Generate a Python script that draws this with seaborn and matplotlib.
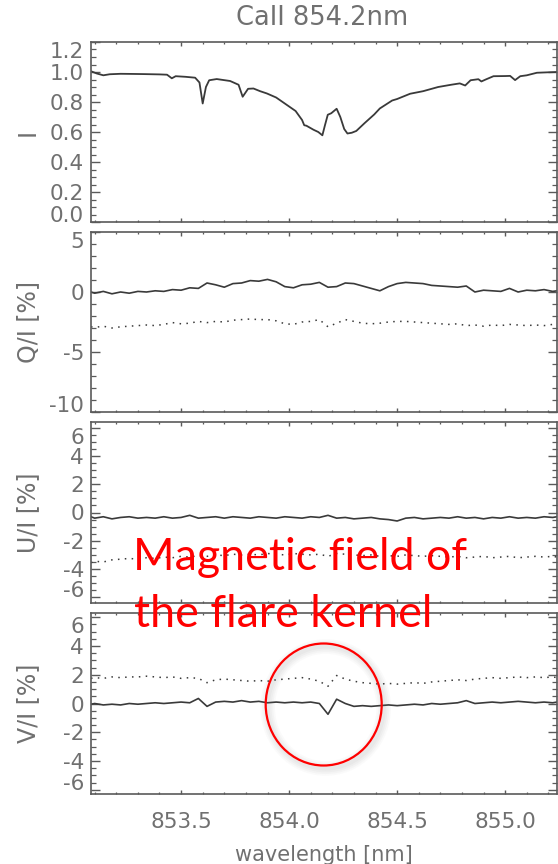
import numpy as np
import pandas as pd
import matplotlib
matplotlib.use("Agg")
import matplotlib.pyplot as plt
from matplotlib.ticker import MultipleLocator, FormatStrFormatter
from matplotlib.patches import Ellipse
import seaborn as sns

# Stokes I profile around Ca II 854.2 nm
wl_i = [853.083, 853.11, 853.14, 853.17, 853.22, 853.28, 853.33, 853.40, 853.435, 853.457,
        853.475, 853.52, 853.565, 853.585, 853.60, 853.615, 853.63, 853.665, 853.727, 853.766,
        853.785, 853.81, 853.835, 853.866, 853.897, 853.94, 853.98, 854.03, 854.06, 854.07,
        854.08, 854.113, 854.135, 854.154, 854.165, 854.179, 854.195, 854.22, 854.237, 854.255,
        854.27, 854.29, 854.311, 854.35, 854.394, 854.42, 854.477, 854.50, 854.56, 854.62,
        854.69, 854.75, 854.79, 854.815, 854.84, 854.876, 854.89, 854.91, 854.946, 855.0,
        855.023, 855.046, 855.07, 855.10, 855.147, 855.20, 855.24]
stokes_i = [1.005, 0.99, 0.978, 0.985, 0.988, 0.987, 0.986, 0.984, 0.982, 0.958,
            0.972, 0.968, 0.962, 0.93, 0.79, 0.90, 0.945, 0.953, 0.94, 0.915,
            0.835, 0.888, 0.89, 0.872, 0.857, 0.83, 0.79, 0.74, 0.68, 0.645,
            0.642, 0.615, 0.60, 0.578, 0.64, 0.715, 0.725, 0.755, 0.70, 0.62,
            0.59, 0.595, 0.607, 0.66, 0.717, 0.757, 0.81, 0.82, 0.855, 0.872,
            0.90, 0.915, 0.924, 0.91, 0.945, 0.952, 0.937, 0.95, 0.972, 0.973,
            0.974, 0.946, 0.972, 0.978, 0.995, 0.998, 1.0]

# polarisation profiles (percent), solid and dotted curves
wl_pol = [853.083, 853.10, 853.14, 853.18, 853.22, 853.26, 853.30, 853.34, 853.38, 853.42,
          853.46, 853.50, 853.54, 853.58, 853.62, 853.66, 853.70, 853.74, 853.78, 853.82,
          853.86, 853.90, 853.94, 853.98, 854.02, 854.06, 854.10, 854.14, 854.18, 854.22,
          854.26, 854.30, 854.34, 854.38, 854.42, 854.46, 854.50, 854.54, 854.58, 854.62,
          854.66, 854.70, 854.74, 854.78, 854.82, 854.86, 854.90, 854.94, 854.98, 855.02,
          855.06, 855.10, 855.14, 855.18, 855.22, 855.24]
q_solid = [0.0, -0.1, 0.05, -0.15, 0.0, -0.1, 0.05, 0.0, 0.1, 0.05,
           0.2, 0.15, 0.35, 0.3, 0.75, 0.6, 0.4, 0.7, 0.75, 0.95,
           0.9, 1.05, 0.85, 0.45, 0.35, 0.6, 0.65, 0.8, 0.4, 0.45,
           0.75, 0.7, 0.5, 0.3, 0.1, 0.45, 0.7, 0.8, 0.75, 0.7,
           0.55, 0.5, 0.45, 0.4, 0.5, 0.0, 0.15, 0.1, 0.05, 0.3,
           0.0, 0.15, 0.1, 0.2, 0.05, 0.1]
q_dot = [-2.9, -2.95, -2.85, -3.0, -2.9, -2.85, -2.8, -2.75, -2.8, -2.7,
         -2.55, -2.65, -2.6, -2.45, -2.55, -2.45, -2.5, -2.35, -2.3, -2.25,
         -2.3, -2.3, -2.4, -2.65, -2.7, -2.5, -2.45, -2.3, -2.9, -2.6,
         -2.3, -2.45, -2.6, -2.65, -2.6, -2.5, -2.45, -2.45, -2.5, -2.55,
         -2.6, -2.65, -2.7, -2.65, -2.8, -2.75, -2.85, -2.75, -2.8, -2.7,
         -2.75, -2.8, -2.75, -2.8, -2.7, -2.8]
u_solid = [-0.3, -0.4, -0.3, -0.45, -0.35, -0.3, -0.4, -0.35, -0.4, -0.3,
           -0.4, -0.35, -0.2, -0.4, -0.35, -0.3, -0.4, -0.3, -0.35, -0.4,
           -0.3, -0.35, -0.4, -0.3, -0.35, -0.4, -0.3, -0.35, -0.2, -0.4,
           -0.35, -0.45, -0.4, -0.35, -0.45, -0.5, -0.6, -0.4, -0.35, -0.45,
           -0.4, -0.35, -0.4, -0.3, -0.4, -0.35, -0.45, -0.35, -0.4, -0.3,
           -0.4, -0.35, -0.4, -0.3, -0.35, -0.3]
u_dot = [-3.55, -3.45, -3.5, -3.35, -3.3, -3.25, -3.3, -3.2, -3.25, -3.15,
         -3.2, -3.1, -3.15, -3.05, -3.1, -3.0, -3.05, -2.95, -3.0, -2.95,
         -3.0, -2.9, -2.95, -3.0, -2.9, -2.95, -3.0, -2.95, -3.1, -2.9,
         -2.95, -3.0, -3.05, -3.0, -3.1, -3.05, -3.1, -3.0, -3.05, -3.1,
         -3.05, -3.1, -3.15, -3.1, -3.2, -3.15, -3.1, -3.2, -3.15, -3.1,
         -3.2, -3.15, -3.1, -3.15, -3.1, -3.15]
v_solid = [-0.05, 0.0, -0.1, -0.05, -0.1, 0.0, -0.05, 0.0, 0.05, 0.0,
           0.05, 0.1, 0.05, 0.35, -0.2, 0.1, 0.15, 0.1, 0.2, 0.1,
           0.15, 0.05, 0.1, 0.05, 0.1, 0.05, 0.1, 0.0, -0.75, 0.3,
           0.0, -0.2, -0.15, -0.2, -0.15, -0.1, -0.15, -0.1, -0.05, -0.1,
           0.0, -0.05, 0.0, 0.05, 0.2, 0.0, 0.05, 0.1, 0.05, 0.1,
           0.15, 0.1, 0.05, 0.1, 0.05, 0.1]
v_dot = [1.75, 1.8, 1.75, 1.85, 1.8, 1.85, 1.85, 1.9, 1.85, 1.8,
         1.85, 1.75, 1.8, 1.75, 1.45, 1.65, 1.7, 1.65, 1.6, 1.55,
         1.6, 1.55, 1.65, 1.7, 1.75, 1.8, 1.7, 1.55, 1.2, 1.95,
         1.7, 1.55, 1.45, 1.4, 1.35, 1.4, 1.35, 1.4, 1.45, 1.4,
         1.5, 1.55, 1.6, 1.65, 1.6, 1.7, 1.75, 1.8, 1.75, 1.8,
         1.85, 1.8, 1.85, 1.8, 1.85, 1.8]

ylabels = ["I", "Q/I [%]", "U/I [%]", "V/I [%]"]
title = "CaII 854.2nm"
note = ["Magnetic field of", "the flare kernel"]

sns.set_style("white")
plt.rcParams["font.family"] = ["DejaVu Sans"]

line_c = "#3a3a3a"
axis_c = "#5a5a5a"
text_c = "#707070"

fig = plt.figure(figsize=(5.58, 8.64), dpi=100)
left, width = 91 / 558, 466 / 558
boxes = [(42, 222), (232, 412), (422, 603), (613, 794)]
axes = []
for top, bot in boxes:
    axes.append(fig.add_axes([left, 1 - bot / 864, width, (bot - top) / 864]))

pol = pd.DataFrame({"wl": wl_pol, "q": q_solid, "q2": q_dot, "u": u_solid,
                    "u2": u_dot, "v": v_solid, "v2": v_dot})
dot = (0, (1, 3.5))

sns.lineplot(x=wl_i, y=stokes_i, ax=axes[0], color=line_c, lw=1.3, errorbar=None)
for ax, (s, d) in zip(axes[1:], [("q", "q2"), ("u", "u2"), ("v", "v2")]):
    sns.lineplot(data=pol, x="wl", y=s, ax=ax, color=line_c, lw=1.2, errorbar=None)
    sns.lineplot(data=pol, x="wl", y=d, ax=ax, color=line_c, lw=1.1,
                 linestyle=dot, errorbar=None)

ylims = [(0, 1.2), (-10, 5), (-6.4, 6.4), (-6.3, 6.3)]
ymaj = [0.2, 5, 2, 2]
ymin = [0.05, 1, 0.5, 0.5]
yfmt = ["%.1f", "%d", "%d", "%d"]
for i, ax in enumerate(axes):
    ax.set_xlim(853.083, 855.24)
    ax.set_ylim(*ylims[i])
    ax.xaxis.set_major_locator(MultipleLocator(0.5))
    ax.xaxis.set_minor_locator(MultipleLocator(0.1))
    ax.yaxis.set_major_locator(MultipleLocator(ymaj[i]))
    ax.yaxis.set_minor_locator(MultipleLocator(ymin[i]))
    ax.yaxis.set_major_formatter(FormatStrFormatter(yfmt[i]))
    for sp in ax.spines.values():
        sp.set_visible(True)
        sp.set_color(axis_c)
        sp.set_linewidth(1.2)
    ax.tick_params(axis="x", which="major", direction="in", length=3, width=1,
                   color=axis_c, top=True, bottom=True, labelsize=15.5,
                   labelcolor=text_c, pad=13)
    ax.tick_params(axis="x", which="minor", direction="in", length=1.6, width=0.9,
                   color=axis_c, top=True, bottom=True)
    ax.tick_params(axis="y", which="major", direction="in", length=6.7, width=1,
                   color=axis_c, left=True, right=True, labelsize=15.5,
                   labelcolor=text_c, pad=5)
    ax.tick_params(axis="y", which="minor", direction="in", length=3.4, width=0.9,
                   color=axis_c, left=True, right=True)
    if i < 3:
        ax.tick_params(axis="x", labelbottom=False)
    ax.set_xlabel("")
    ax.set_ylabel(ylabels[i], fontsize=17, color=text_c)
    ax.yaxis.set_label_coords(-0.135, 0.5)
    ax.yaxis.label.set_verticalalignment("center")

axes[3].set_xlabel("wavelength [nm]", fontsize=15, color=text_c, labelpad=9)

fig.text(0.577, 1 - 18 / 864, title, ha="center", va="center", fontsize=18.5,
         color=text_c)

# red annotation
fig.text(133 / 558, 1 - 570 / 864, note[0], ha="left", va="baseline",
         fontsize=32.3, color="#ff0000", family=["Lato", "DejaVu Sans"])
fig.text(134 / 558, 1 - 627 / 864, note[1], ha="left", va="baseline",
         fontsize=32.3, color="#ff0000", family=["Lato", "DejaVu Sans"])

cx, cy = 323.7 / 558, 1 - 704.5 / 864
w, h = 116 / 558, 122 / 864
for k, a in enumerate([0.05, 0.05, 0.04, 0.03]):
    fig.add_artist(Ellipse((cx + 2 / 558, cy - 3 / 864), w, h, fill=False,
                           ec="#777777", lw=3 + 2.5 * k, alpha=a,
                           transform=fig.transFigure))
fig.add_artist(Ellipse((cx, cy), w, h, fill=False, ec="#ff0000", lw=1.6,
                       transform=fig.transFigure))

# IDL-style: edge tick labels pulled inside the panel
fig.canvas.draw()
for ax in axes:
    lo, hi = ax.get_ylim()
    for t in ax.yaxis.get_major_ticks():
        v = t.get_loc()
        if abs(v - hi) < 0.6 * (hi - lo) / 12 and v <= hi + 1e-9:
            t.label1.set_verticalalignment("top")
        elif abs(v - lo) < 0.6 * (hi - lo) / 12 and v >= lo - 1e-9:
            t.label1.set_verticalalignment("baseline")

fig.savefig("out.png", dpi=100)
